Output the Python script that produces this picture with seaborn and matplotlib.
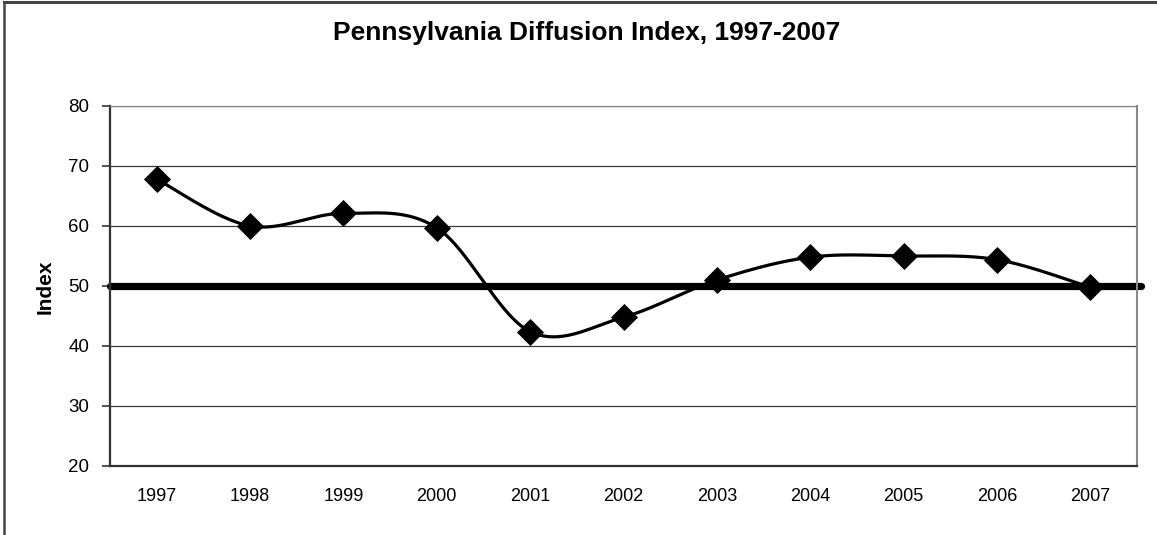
import matplotlib
matplotlib.use("Agg")
import matplotlib.pyplot as plt
import seaborn as sns
import numpy as np
import pandas as pd
from matplotlib.lines import Line2D

# -----------------------------
# Data
# -----------------------------
years = ["1997", "1998", "1999", "2000", "2001", "2002",
         "2003", "2004", "2005", "2006", "2007"]
index_values = [67.8, 60.0, 62.1, 59.7, 42.4, 44.8, 51.0, 54.8, 55.0, 54.4, 49.8]
neutral_level = 50
y_ticks = [20, 30, 40, 50, 60, 70, 80]


def smooth_curve(xs, ys, steps=20):
    # Catmull-Rom style smoothing, like Excel's "smoothed line" option
    pts = np.column_stack([xs, ys]).astype(float)
    padded = np.vstack([pts[0], pts, pts[-1]])
    out = []
    for i in range(1, len(padded) - 2):
        p0, p1, p2, p3 = padded[i - 1], padded[i], padded[i + 1], padded[i + 2]
        t = np.linspace(0, 1, steps, endpoint=False)[:, None]
        seg = 0.5 * ((2 * p1) + (-p0 + p2) * t +
                     (2 * p0 - 5 * p1 + 4 * p2 - p3) * t ** 2 +
                     (-p0 + 3 * p1 - 3 * p2 + p3) * t ** 3)
        out.append(seg)
    out.append(pts[-1][None, :])
    out = np.vstack(out)
    return out[:, 0], out[:, 1]


pos = np.arange(len(years))
df = pd.DataFrame({"pos": pos, "Index": index_values})
sx, sy = smooth_curve(pos, index_values)
curve = pd.DataFrame({"pos": sx, "Index": sy})

sns.set_style("white")
plt.rcParams["font.family"] = ["Liberation Sans", "DejaVu Sans"]
plt.rcParams["text.color"] = "black"
plt.rcParams["xtick.color"] = "black"
plt.rcParams["ytick.color"] = "black"

fig = plt.figure(figsize=(11.57, 5.35), dpi=100)
ax = fig.add_axes([110 / 1157, 1 - 466 / 535, 1027 / 1157, 360 / 535])

# gridlines
for v in y_ticks[1:]:
    if v == neutral_level:
        continue
    ax.axhline(v, color="#3a3a3a", lw=0.9, zorder=1)

ax.axhline(neutral_level, color="black", lw=5.2, zorder=2, clip_on=False,
           xmax=1.004)

sns.lineplot(data=curve, x="pos", y="Index", ax=ax, color="black", lw=2.3,
             sort=False, zorder=3)
sns.scatterplot(data=df, x="pos", y="Index", ax=ax, color="black", marker="D",
                s=190, edgecolor="black", linewidth=0, zorder=4)

ax.set_xlim(-0.5, len(years) - 0.5)
ax.set_ylim(20, 80)
ax.set_yticks(y_ticks)
ax.set_yticklabels([str(v) for v in y_ticks], fontsize=13.5)
ax.set_xticks(pos)
ax.set_xticklabels(years, fontsize=13)
ax.set_xticks(np.arange(-0.5, len(years), 1), minor=True)
ax.tick_params(axis="x", which="major", length=0, pad=16)
ax.tick_params(axis="x", which="minor", length=6, width=1.3, color="#555555",
               direction="out")
ax.tick_params(axis="y", length=6, width=1.3, color="#444444", pad=9,
               direction="out", left=True)
ax.set_xlabel("")
ax.set_ylabel("")

for side in ["left", "bottom"]:
    ax.spines[side].set_color("#333333")
    ax.spines[side].set_linewidth(1.6)
ax.spines["right"].set_color("#888888")
ax.spines["right"].set_linewidth(1.5)
ax.spines["top"].set_color("#888888")
ax.spines["top"].set_linewidth(0.9)

fig.text(587 / 1157, 1 - 33 / 535, "Pennsylvania Diffusion Index, 1997-2007",
         ha="center", va="center", fontsize=19, fontweight="bold")
fig.text(45 / 1157, 1 - 287 / 535, "Index", ha="center", va="center",
         rotation=90, fontsize=15, fontweight="bold")

# outer chart frame (left and top edges; right and bottom fall outside)
fx = 4 / 1157
fy = 1 - 2 / 535
fig.add_artist(Line2D([fx, fx], [0, fy], transform=fig.transFigure,
                      color="#444444", lw=1.8, solid_capstyle="projecting"))
fig.add_artist(Line2D([fx, 1], [fy, fy], transform=fig.transFigure,
                      color="#444444", lw=2.2, solid_capstyle="projecting"))

plt.savefig("out.png", dpi=100)
plt.close()
